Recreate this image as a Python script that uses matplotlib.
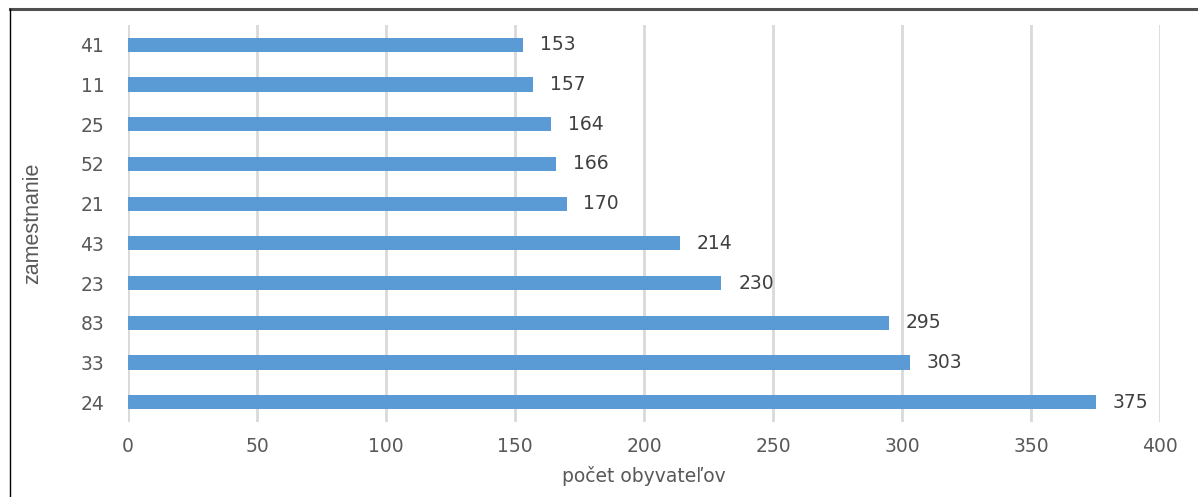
import matplotlib.pyplot as plt
from matplotlib.lines import Line2D

# data (bottom to top)
categories = ["24", "33", "83", "23", "43", "21", "52", "25", "11", "41"]
values = [375, 303, 295, 230, 214, 170, 166, 164, 157, 153]
x_ticks = [0, 50, 100, 150, 200, 250, 300, 350, 400]

W, H = 1198, 497
plt.rcParams['font.family'] = ['DejaVu Sans']

fig = plt.figure(figsize=(W / 100, H / 100), dpi=100)
ax = fig.add_axes([128 / W, 1 - 422 / H, (1160 - 128) / W, (422 - 25) / H])

y = range(len(categories))
ax.barh(y, values, height=0.36, color="#5b9bd5", zorder=3)
for yi, v in zip(y, values):
    ax.text(v + 6.5, yi, str(v), va="center", ha="left", fontsize=13.5, color="#404040")

ax.set_xlim(0, 400)
ax.set_ylim(-0.5, len(categories) - 0.5)
ax.set_xticks(x_ticks)
ax.set_yticks(list(y))
ax.set_yticklabels(categories)
ax.tick_params(length=0, labelsize=13.5, labelcolor="#595959")
ax.tick_params(axis="x", pad=11)
ax.tick_params(axis="y", pad=17)
ax.grid(axis="x", color="#d9d9d9", linewidth=2, zorder=0)
for s in ax.spines.values():
    s.set_visible(False)

ax.set_xlabel("počet obyvateľov", fontsize=13.5, color="#595959", labelpad=7)
ax.set_ylabel("zamestnanie", fontsize=15.5, color="#595959", labelpad=27,
              family=["Liberation Sans Narrow", "Liberation Sans", "DejaVu Sans"])

# frame from the cropped document
fig.add_artist(Line2D([10 / W, 1], [1 - 9 / H, 1 - 9 / H], color="#505050", linewidth=2.2))
fig.add_artist(Line2D([10 / W, 10 / W], [0, 1 - 9 / H], color="black", linewidth=1))

fig.savefig("out.png", dpi=100)
